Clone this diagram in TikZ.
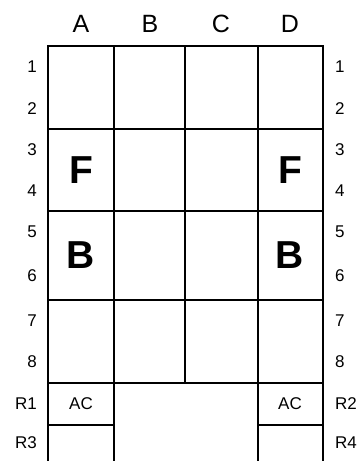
\documentclass[tikz,border=0pt]{standalone}
\usepackage{fontspec}
\setmainfont{Liberation Sans}
\usetikzlibrary{positioning}
\tikzset{
  gridline/.style={line width=2pt, draw=black, line cap=rect},
  collbl/.style={font=\fontsize{25}{27}\selectfont, inner sep=0pt},
  rowlbl/.style={font=\fontsize{17}{19}\selectfont, inner sep=0pt},
  seat/.style={font=\bfseries\fontsize{39}{41}\selectfont, inner sep=0pt},
  tag/.style={font=\fontsize{17}{19}\selectfont, inner sep=0pt}
}

\begin{document}
\begin{tikzpicture}[x=1pt,y=-1pt]
  \useasboundingbox (0,0) rectangle (363,461);

  % column heads
  \node[collbl] (hA) at (81,24) {A};
  \node[collbl] (hB) at (150,24) {B};
  \node[collbl] (hC) at (221,24) {C};
  \node[collbl] (hD) at (290,24) {D};

  % row numbers, both sides
  \foreach \n/\y in {1/67,2/109,3/150,4/191,5/232,6/276,7/321,8/362}{
    \node[rowlbl,anchor=east] (l\n) at (37,\y) {\n};
    \node[rowlbl,anchor=west] (r\n) at (335,\y) {\n};
  }
  \node[rowlbl,anchor=east] (lR1) at (37,404) {R1};
  \node[rowlbl,anchor=east] (lR3) at (37,443) {R3};
  \node[rowlbl,anchor=west] (rR2) at (335,404) {R2};
  \node[rowlbl,anchor=west] (rR4) at (335,443) {R4};

  % grid
  \draw[gridline] (48,46) rectangle (323,383);
  \foreach \y in {129,211,300}{
    \draw[gridline] (48,\y) -- (323,\y);
  }
  \foreach \x in {114,185,258}{
    \draw[gridline] (\x,46) -- (\x,383);
  }
  \draw[gridline] (48,383) -- (48,461);
  \draw[gridline] (114,383) -- (114,461);
  \draw[gridline] (258,383) -- (258,461);
  \draw[gridline] (323,383) -- (323,461);
  \draw[gridline] (48,425) -- (114,425);
  \draw[gridline] (258,425) -- (323,425);

  % seat letters
  \node[seat] (fA) at (81,170) {F};
  \node[seat] (fD) at (290,170) {F};
  \node[seat] (bA) at (81,255) {B};
  \node[seat] (bD) at (290,255) {B};
  \node[tag] (acA) at (81,404) {AC};
  \node[tag] (acD) at (290,404) {AC};
\end{tikzpicture}
\end{document}
